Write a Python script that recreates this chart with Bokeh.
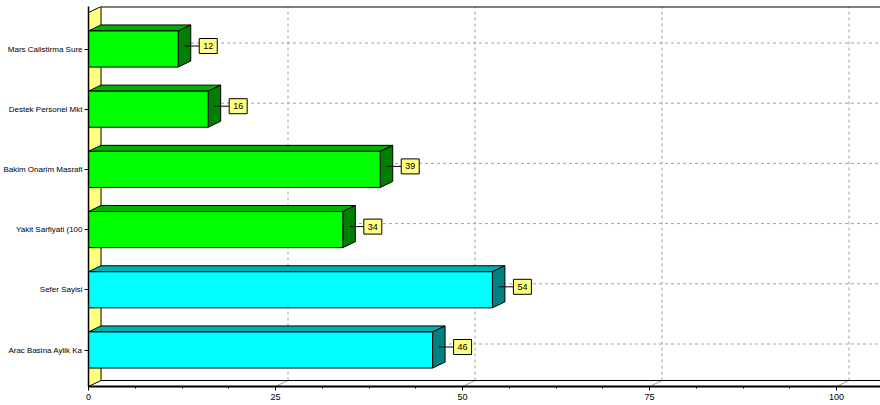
from bokeh.plotting import figure
from bokeh.models import FixedTicker, Range1d
from bokeh.embed import file_html
from bokeh.resources import INLINE
from bokeh.core.properties import value

# --- data -------------------------------------------------------------
categories = [
    "Mars Calistirma Sure",
    "Destek Personel Mkt",
    "Bakim Onarim Masrafi",
    "Yakit Sarfiyati (100",
    "Sefer Sayisi",
    "Arac Basina Aylik Ka",
]
values = [12, 16, 39, 34, 54, 46]
series_index = [0, 0, 0, 0, 1, 1]
x_ticks = [0, 25, 50, 75, 100]

# --- style ------------------------------------------------------------
FRONT = ["#00FF00", "#00FFFF"]
TOP = ["#00B000", "#00B0B0"]
SIDE = ["#008000", "#008080"]
WALL = "#FFFF80"
GRID = "#A0A0A0"
FONT_NAME = "Liberation Sans"

W, H = 880, 405
LEFT, TOPB, BOTTOM = 88, 6, 19
PX_PER_UNIT = 7.48          # horizontal pixels per value unit
ROW_PX = 60.2               # vertical pixels between categories
DEPTH_X_PX, DEPTH_Y_PX = 12.5, 6.0
BAR_HALF = 0.30             # half bar thickness in row units

frame_w = W - LEFT
frame_h = H - TOPB - BOTTOM
x_end = frame_w / PX_PER_UNIT
pad_bot = 36.5 / ROW_PX     # space below lowest category centre (front plane)
DX = DEPTH_X_PX / PX_PER_UNIT
DY = DEPTH_Y_PX / ROW_PX

n = len(categories)
levels = [n - 1 - i for i in range(n)]
y_start = -pad_bot
y_end = y_start + frame_h / ROW_PX

p = figure(
    width=W, height=H,
    x_range=Range1d(0, x_end), y_range=Range1d(y_start, y_end),
    output_backend="svg", toolbar_location=None,
    min_border_left=LEFT, min_border_right=0,
    min_border_top=TOPB, min_border_bottom=BOTTOM,
)
p.outline_line_color = None
p.xgrid.visible = False
p.ygrid.visible = False
p.background_fill_color = "white"
p.border_fill_color = "white"

# --- back walls and grid ---------------------------------------------
back_bottom = y_start + DY
# floor
p.patch([0, x_end, x_end, DX], [y_start, y_start, back_bottom, back_bottom],
        fill_color="white", line_color=None)
# vertical grid lines on the back wall and their floor slants
for t in x_ticks[1:]:
    p.segment(t + DX, back_bottom, t + DX, y_end, line_color=GRID,
              line_dash="3 3", line_width=1)
    p.segment(t, y_start, t + DX, back_bottom, line_color=GRID, line_width=1)
# horizontal grid lines at each category on the back wall
for k in levels:
    p.segment(DX, k + DY, x_end, k + DY, line_color=GRID,
              line_dash="3 3", line_width=1)
# back floor edge and top border
p.segment(DX, back_bottom, x_end, back_bottom, line_color="black", line_width=1)
p.segment(DX, y_end, x_end, y_end, line_color="black", line_width=2)
# left wall
front_top = y_end - DY
p.patch([0, 0, DX, DX], [y_start, front_top, y_end, back_bottom],
        fill_color=WALL, line_color="black", line_width=1)

# --- bars -------------------------------------------------------------
top_xs, top_ys, side_xs, side_ys = [], [], [], []
left, right, bottom, top = [], [], [], []
fc, tc, sc = [], [], []
for v, k, s in zip(values, levels, series_index):
    b, t = k - BAR_HALF, k + BAR_HALF
    top_xs.append([0, v, v + DX, DX])
    top_ys.append([t, t, t + DY, t + DY])
    side_xs.append([v, v, v + DX, v + DX])
    side_ys.append([b, t, t + DY, b + DY])
    left.append(0); right.append(v); bottom.append(b); top.append(t)
    fc.append(FRONT[s]); tc.append(TOP[s]); sc.append(SIDE[s])

p.patches(top_xs, top_ys, fill_color=tc, line_color="black", line_width=1)
p.patches(side_xs, side_ys, fill_color=sc, line_color="black", line_width=1)
p.quad(left=left, right=right, bottom=bottom, top=top,
       fill_color=fc, line_color="black", line_width=1)

# --- value labels -----------------------------------------------------
lab_y = [k + DY / 2 for k in levels]
for v, y in zip(values, lab_y):
    p.segment(v + DX / 2, y, v + 21 / PX_PER_UNIT, y,
              line_color="black", line_width=1)
box_x = [v + 30 / PX_PER_UNIT for v in values]
p.rect(box_x, lab_y, width=18, height=15, width_units="screen",
       height_units="screen", fill_color=WALL, line_color="black", line_width=1)
p.text(box_x, lab_y, text=[str(v) for v in values], text_align="center",
       text_baseline="middle", text_font=value(FONT_NAME), text_font_size="9px",
       text_color="black")

# --- axes -------------------------------------------------------------
p.xaxis.ticker = FixedTicker(ticks=x_ticks,
                             minor_ticks=[i * 6.25 for i in range(17)])
p.xaxis.axis_line_width = 2
p.xaxis.major_tick_out = 4
p.xaxis.major_tick_in = 0
p.xaxis.minor_tick_out = 2
p.xaxis.minor_tick_in = 0
p.xaxis.major_label_standoff = 3

p.yaxis.ticker = FixedTicker(ticks=levels)
p.yaxis.major_label_overrides = {k: c for k, c in zip(levels, categories)}
p.yaxis.major_tick_out = 4
p.yaxis.major_tick_in = 0
p.yaxis.minor_tick_out = 0
p.yaxis.minor_tick_in = 0
p.yaxis.major_label_standoff = 2
p.yaxis.axis_line_width = 1.5

for ax in (p.xaxis[0], p.yaxis[0]):
    ax.major_label_text_font = FONT_NAME
    ax.major_label_text_color = "black"
    ax.axis_line_color = "black"
    ax.major_tick_line_color = "black"
    ax.minor_tick_line_color = "black"
p.yaxis.major_label_text_font_size = "8px"
p.xaxis.major_label_text_font_size = "9px"

open("out.html", "w").write(file_html(p, INLINE))
